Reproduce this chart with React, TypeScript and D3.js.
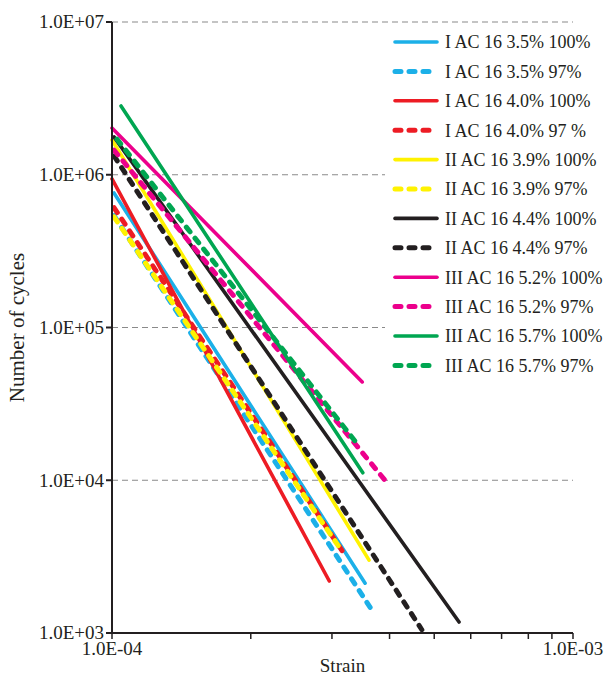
import React from 'react';
import * as d3 from 'd3';

// series: start and end point of each fatigue line
const seriesLabels = [
  'I AC 16 3.5% 100%',
  'I AC 16 3.5% 97%',
  'I AC 16 4.0% 100%',
  'I AC 16 4.0% 97 %',
  'II AC 16 3.9% 100%',
  'II AC 16 3.9% 97%',
  'II AC 16 4.4% 100%',
  'II AC 16 4.4% 97%',
  'III AC 16 5.2% 100%',
  'III AC 16 5.2% 97%',
  'III AC 16 5.7% 100%',
  'III AC 16 5.7% 97%',
];
const startStrain = [1.01e-4, 1.01e-4, 1.0e-4, 1.01e-4, 1.0e-4, 1.01e-4, 1.01e-4, 1.01e-4, 1.0e-4, 1.01e-4, 1.046e-4, 1.025e-4];
const startCycles = [7.6e5, 5.4e5, 9.4e5, 6.1e5, 1.69e6, 5.3e5, 1.77e6, 1.33e6, 2.02e6, 1.45e6, 2.82e6, 1.71e6];
const endStrain = [3.54e-4, 3.7e-4, 2.96e-4, 3.19e-4, 3.61e-4, 3.12e-4, 5.66e-4, 4.7e-4, 3.49e-4, 3.97e-4, 3.5e-4, 3.42e-4];
const endCycles = [2120, 1350, 2190, 3290, 3000, 3600, 1180, 1050, 4.4e4, 9450, 1.12e4, 1.7e4];

const yTicks = [1e3, 1e4, 1e5, 1e6, 1e7];
const xTicks = [1e-4, 2e-4, 3e-4, 4e-4, 5e-4, 6e-4, 7e-4, 8e-4, 9e-4, 1e-3];
const xLabelTicks = [1e-4, 1e-3];

const colors = ['#1cb0e8', '#1cb0e8', '#ed1c24', '#ed1c24', '#fff200', '#fff200', '#231f20', '#231f20', '#ec008c', '#ec008c', '#00a651', '#00a651'];
const dashed = [false, true, false, true, false, true, false, true, false, true, false, true];

const W = 611, H = 681;
const margin = { left: 112, right: 38, top: 22, bottom: 48 };
const font = '"Liberation Serif", "Times New Roman", serif';

const sci = (v: number) => {
  const e = Math.round(Math.log10(v));
  return '1.0E' + (e < 0 ? '-' : '+') + String(Math.abs(e)).padStart(2, '0');
};

export default function App() {
  const x = d3.scaleLog().domain([1e-4, 1e-3]).range([margin.left, W - margin.right]);
  const y = d3.scaleLog().domain([1e3, 1e7]).range([H - margin.bottom, margin.top]);
  const line = d3.line<[number, number]>().x(d => x(d[0])).y(d => y(d[1]));

  const legendX = 393, legendY = 42, rowH = 29.4;

  return (
    <div style={{ position: 'absolute', left: 0, top: 0 }}>
      <svg width={W} height={H} style={{ display: 'block', background: '#fff' }}>
        {yTicks.slice(1).map(t => (
          <line key={t} x1={x(1e-4)} x2={x(1e-3)} y1={y(t)} y2={y(t)} stroke="#8a8a8a" strokeWidth={1.2} strokeDasharray="6 4" />
        ))}

        {seriesLabels.map((s, i) => (
          <path
            key={s}
            d={line([[startStrain[i], startCycles[i]], [endStrain[i], endCycles[i]]]) || ''}
            fill="none"
            stroke={colors[i]}
            strokeWidth={dashed[i] ? 5 : 3.6}
            strokeLinecap="round"
            strokeDasharray={dashed[i] ? '6 8' : undefined}
          />
        ))}

        {/* axes */}
        <line x1={x(1e-4)} x2={x(1e-4)} y1={y(1e7)} y2={y(1e3)} stroke="#231f20" strokeWidth={2} />
        <line x1={x(1e-4)} x2={x(1e-3)} y1={y(1e3)} y2={y(1e3)} stroke="#231f20" strokeWidth={2} />
        {yTicks.map(t => (
          <g key={t}>
            <line x1={x(1e-4) - 6} x2={x(1e-4)} y1={y(t)} y2={y(t)} stroke="#231f20" strokeWidth={2} />
            <text x={x(1e-4) - 8} y={y(t)} dy="0.33em" textAnchor="end" fontFamily={font} fontSize={19} fill="#231f20">{sci(t)}</text>
          </g>
        ))}
        {xTicks.map(t => (
          <line key={t} x1={x(t)} x2={x(t)} y1={y(1e3)} y2={y(1e3) + 6} stroke="#231f20" strokeWidth={1.5} />
        ))}
        {xLabelTicks.map(t => (
          <text key={t} x={x(t)} y={y(1e3) + 22} textAnchor="middle" fontFamily={font} fontSize={19} fill="#231f20">{sci(t)}</text>
        ))}
        <text x={(x(1e-4) + x(1e-3)) / 2} y={H - 9} textAnchor="middle" fontFamily={font} fontSize={19} fill="#231f20">Strain</text>
        <text transform={`translate(24,${(y(1e3) + y(1e7)) / 2}) rotate(-90)`} textAnchor="middle" fontFamily={font} fontSize={21} fill="#231f20">Number of cycles</text>

        {/* legend */}
        <rect x={385} y={28} width={226} height={352} fill="#fff" />
        {seriesLabels.map((s, i) => (
          <g key={s} transform={`translate(${legendX},${legendY + i * rowH})`}>
            <line x1={2} x2={44} y1={0} y2={0} stroke={colors[i]} strokeWidth={dashed[i] ? 5 : 3.6} strokeLinecap="round" strokeDasharray={dashed[i] ? '6 8' : undefined} />
            <text x={52} y={0} dy="0.35em" fontFamily={font} fontSize={18} fill="#231f20">{s}</text>
          </g>
        ))}
      </svg>
    </div>
  );
}
